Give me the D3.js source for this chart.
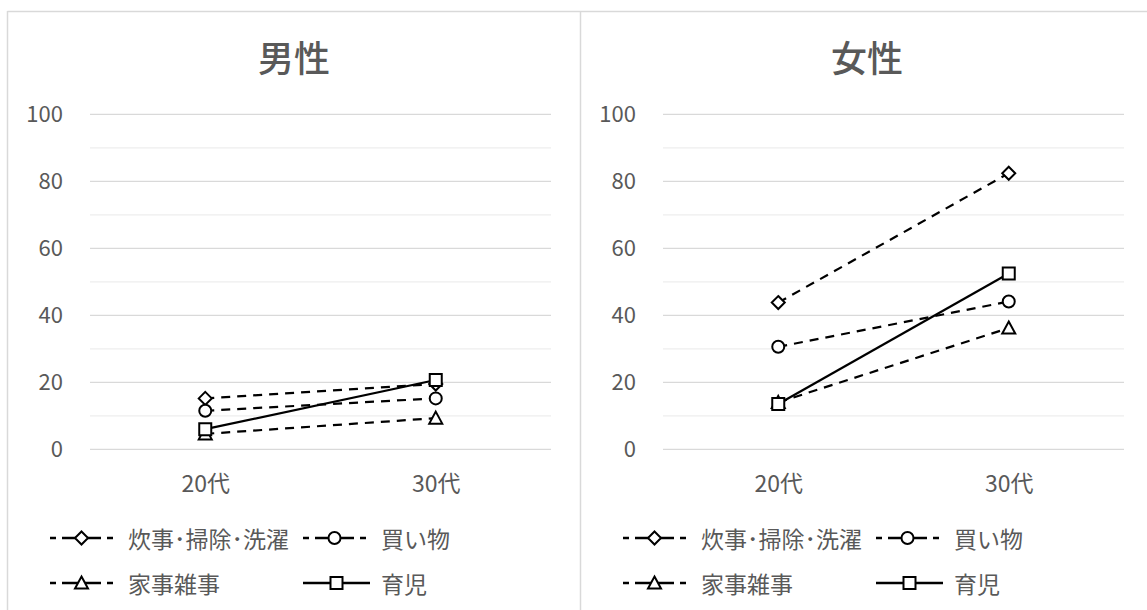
<!DOCTYPE html>
<html>
<head>
<meta charset="utf-8">
<script src="https://cdn.jsdelivr.net/npm/d3@7"></script>
<style>
  html, body { margin: 0; padding: 0; background: #ffffff; }
  svg { display: block; }
  text { font-family: "Noto Sans CJK JP", "Noto Sans", sans-serif; fill: #595959; }
</style>
</head>
<body>
<svg id="chart" width="1147" height="610"></svg>
<script>
// Age groups on the x axis
const categories = ["20代", "30代"];
// Series names, in legend order
const seriesNames = ["炊事･掃除･洗濯", "買い物", "家事雑事", "育児"];
// Panel titles
const panelTitles = ["男性", "女性"];
// Y axis ticks
const yTicks = [0, 20, 40, 60, 80, 100];
const yMinorTicks = [10, 30, 50, 70, 90];

// 男性
const maleCooking   = [15.2, 19.5];
const maleShopping  = [11.5, 15.2];
const maleChores    = [4.6, 9.3];
const maleChildcare = [6.0, 20.7];

// 女性
const femaleCooking   = [43.8, 82.4];
const femaleShopping  = [30.6, 44.1];
const femaleChores    = [14.0, 36.2];
const femaleChildcare = [13.5, 52.5];

const panels = [
  { title: panelTitles[0], left: 7,   series: [maleCooking, maleShopping, maleChores, maleChildcare] },
  { title: panelTitles[1], left: 580, series: [femaleCooking, femaleShopping, femaleChores, femaleChildcare] }
];

// Line and marker style per series
const styles = [
  { dash: "9,7", marker: "diamond" },
  { dash: "9,7", marker: "circle" },
  { dash: "9,7", marker: "triangle" },
  { dash: null,  marker: "square" }
];

const svg = d3.select("#chart");
const ink = "#000000";
const grid = "#d9d9d9";
const gridMinor = "#eeeeee";

// Panel frames
svg.append("line").attr("x1", 7.5).attr("x2", 1147).attr("y1", 11.5).attr("y2", 11.5)
  .attr("stroke", grid).attr("stroke-width", 1.5);
panels.forEach(p => {
  svg.append("line").attr("x1", p.left + 0.5).attr("x2", p.left + 0.5)
    .attr("y1", 11).attr("y2", 610)
    .attr("stroke", grid).attr("stroke-width", 1.5);
});

function markerPath(type) {
  switch (type) {
    case "diamond": return "M0,-6.5L6.5,0L0,6.5L-6.5,0Z";
    case "circle": return d3.arc()({innerRadius: 0, outerRadius: 6, startAngle: 0, endAngle: 2 * Math.PI});
    case "triangle": return "M0,-6.5L6.5,5.5L-6.5,5.5Z";
    case "square": return "M-6,-6H6V6H-6Z";
  }
}

function drawMarker(g, type, x, y) {
  g.append("path")
    .attr("d", markerPath(type))
    .attr("transform", `translate(${x},${y})`)
    .attr("fill", "#ffffff")
    .attr("stroke", ink)
    .attr("stroke-width", 2);
}

panels.forEach(p => {
  const g = svg.append("g");
  const plotLeft = p.left + 83;
  const plotRight = p.left + 544;

  const x = d3.scalePoint().domain(categories).range([plotLeft, plotRight]).padding(0.5);
  const y = d3.scaleLinear().domain([0, 100]).range([449.3, 114.3]);

  // Title
  g.append("text")
    .attr("x", p.left + 287)
    .attr("y", 56)
    .attr("text-anchor", "middle")
    .attr("dominant-baseline", "central")
    .attr("font-size", 36)
    .attr("font-weight", 500)
    .text(p.title);

  // Gridlines
  g.selectAll(".minor").data(yMinorTicks).join("line")
    .attr("x1", plotLeft).attr("x2", plotRight)
    .attr("y1", d => y(d)).attr("y2", d => y(d))
    .attr("stroke", gridMinor).attr("stroke-width", 1.3);
  g.selectAll(".major").data(yTicks).join("line")
    .attr("x1", plotLeft).attr("x2", plotRight)
    .attr("y1", d => y(d)).attr("y2", d => y(d))
    .attr("stroke", grid).attr("stroke-width", 1.3);

  // Y axis labels
  const yAxis = g.append("g")
    .attr("transform", `translate(${plotLeft},0)`)
    .call(d3.axisLeft(y).tickValues(yTicks).tickSize(0).tickPadding(27));
  yAxis.select(".domain").remove();
  yAxis.selectAll("text")
    .attr("font-size", 22)
    .attr("font-family", "'Noto Sans CJK JP', 'Noto Sans', sans-serif")
    .attr("fill", "#595959");

  // X axis labels
  const xAxis = g.append("g")
    .attr("transform", `translate(0,${y(0)})`)
    .call(d3.axisBottom(x).tickSize(0).tickPadding(26));
  xAxis.select(".domain").remove();
  xAxis.selectAll("text")
    .attr("font-size", 23)
    .attr("font-family", "'Noto Sans CJK JP', 'Noto Sans', sans-serif")
    .attr("fill", "#595959");

  // Series lines and markers
  const line = d3.line().x((d, i) => x(categories[i])).y(d => y(d));
  p.series.forEach((vals, si) => {
    const st = styles[si];
    g.append("path")
      .attr("d", line(vals))
      .attr("fill", "none")
      .attr("stroke", ink)
      .attr("stroke-width", 2.2)
      .attr("stroke-dasharray", st.dash);
    vals.forEach((v, i) => drawMarker(g, st.marker, x(categories[i]), y(v)));
  });

  // Legend
  const colX = [p.left + 43, p.left + 296];
  const rowY = [538, 583];
  seriesNames.forEach((name, si) => {
    const st = styles[si];
    const lx = colX[si % 2];
    const ly = rowY[Math.floor(si / 2)];
    const len = st.dash ? 63 : 67;
    g.append("line")
      .attr("x1", lx).attr("x2", lx + len)
      .attr("y1", ly).attr("y2", ly)
      .attr("stroke", ink)
      .attr("stroke-width", 2.4)
      .attr("stroke-dasharray", st.dash ? "6,6,39,6,6" : null);
    drawMarker(g, st.marker, lx + len / 2, ly);
    g.append("text")
      .attr("x", lx + 78)
      .attr("y", ly)
      .attr("dominant-baseline", "central")
      .attr("font-size", 23)
      .text(name);
  });
});
</script>
</body>
</html>
